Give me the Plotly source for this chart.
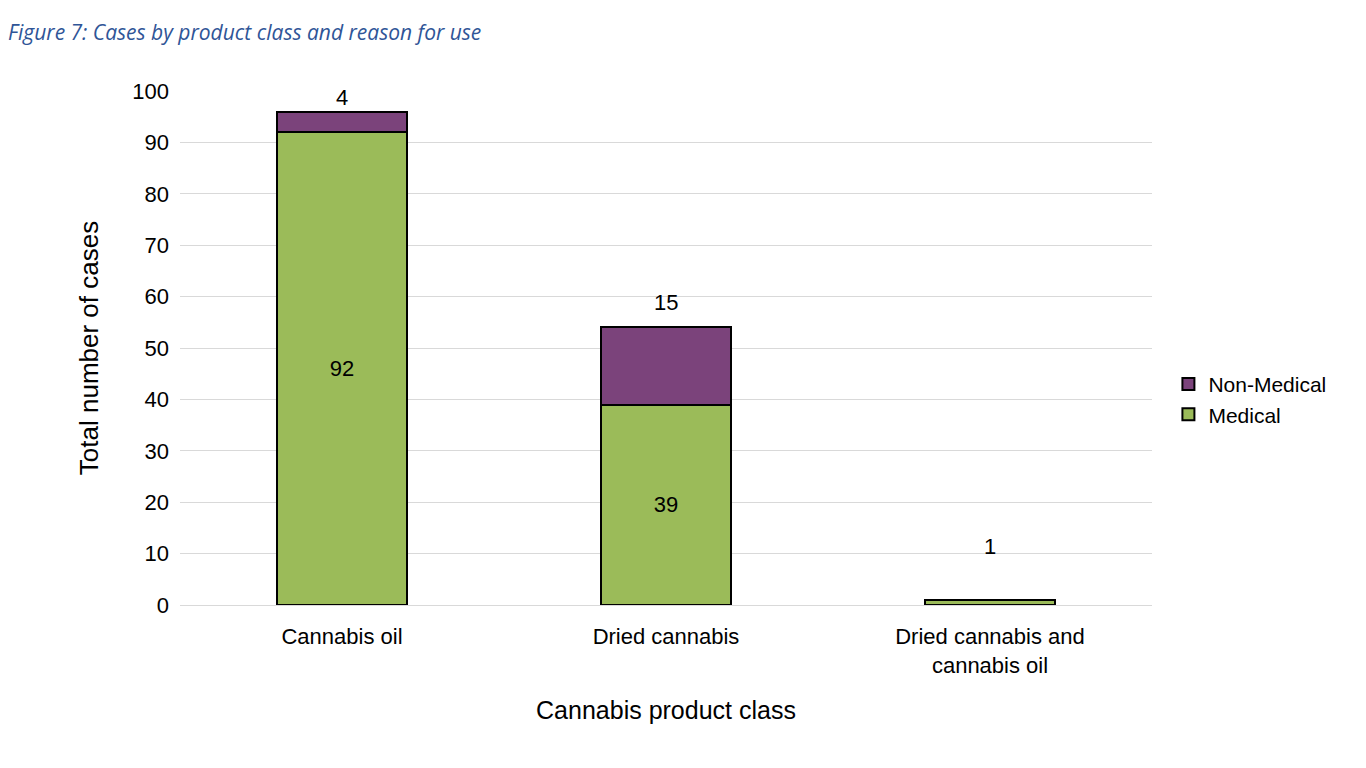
import plotly.graph_objects as go

categories = ["Cannabis oil", "Dried cannabis", "Dried cannabis and<br>cannabis oil"]
medical = [92, 39, 1]
non_medical = [4, 15, 0]
top_labels = ["4", "15", "1"]
y_ticks = list(range(0, 101, 10))

totals = [m + n for m, n in zip(medical, non_medical)]
FONT = "Liberation Sans, Arial, sans-serif"

fig = go.Figure()
fig.add_trace(go.Bar(
    x=categories, y=medical, name="Medical",
    marker=dict(color="#9BBB59", line=dict(color="#000000", width=2)),
    text=[str(v) if v > 5 else "" for v in medical],
    textposition="inside", insidetextanchor="middle",
    textfont=dict(family=FONT, size=22, color="#000000"),
    width=0.4,
))
fig.add_trace(go.Bar(
    x=categories, y=non_medical, name="Non-Medical",
    marker=dict(color="#7B437B", line=dict(color="#000000", width=2)),
    width=0.4,
))

shifts = [14, 25, 53]
for c, t, lab, s in zip(categories, totals, top_labels, shifts):
    fig.add_annotation(x=c, y=t, text=lab, showarrow=False, yanchor="middle",
                       yshift=s, font=dict(family=FONT, size=22, color="#000000"))

fig.update_layout(
    barmode="stack",
    width=1358, height=760,
    paper_bgcolor="white", plot_bgcolor="white",
    margin=dict(l=172, r=214, t=83, b=163),
    font=dict(family=FONT, size=22, color="#000000"),
    title=dict(text="<i>Figure 7: Cases by product class and reason for use</i>",
               x=0.0, xanchor="left", y=0.967, yanchor="middle",
               font=dict(family="Open Sans, sans-serif", size=21, color="#2F5597")),
    legend=dict(traceorder="reversed", xref="container", x=0.8545, y=0.40, xanchor="left",
                yanchor="middle", font=dict(size=21), bgcolor="rgba(0,0,0,0)",
                itemwidth=30, tracegroupgap=0),
    yaxis=dict(range=[0, 100], tickvals=y_ticks, showgrid=True, gridcolor="#D9D9D9",
               gridwidth=1, zeroline=False, showline=False, ticks="",
               title=dict(text="Total number of cases", font=dict(size=26), standoff=26),
               tickfont=dict(size=22), ticklabelstandoff=10),
    xaxis=dict(showline=True, linecolor="#D9D9D9", linewidth=1, ticks="",
               title=dict(text="Cannabis product class", font=dict(size=25), standoff=24),
               tickfont=dict(size=22), ticklabelstandoff=12),
    bargap=0.6,
)

fig.write_html("out.html")
